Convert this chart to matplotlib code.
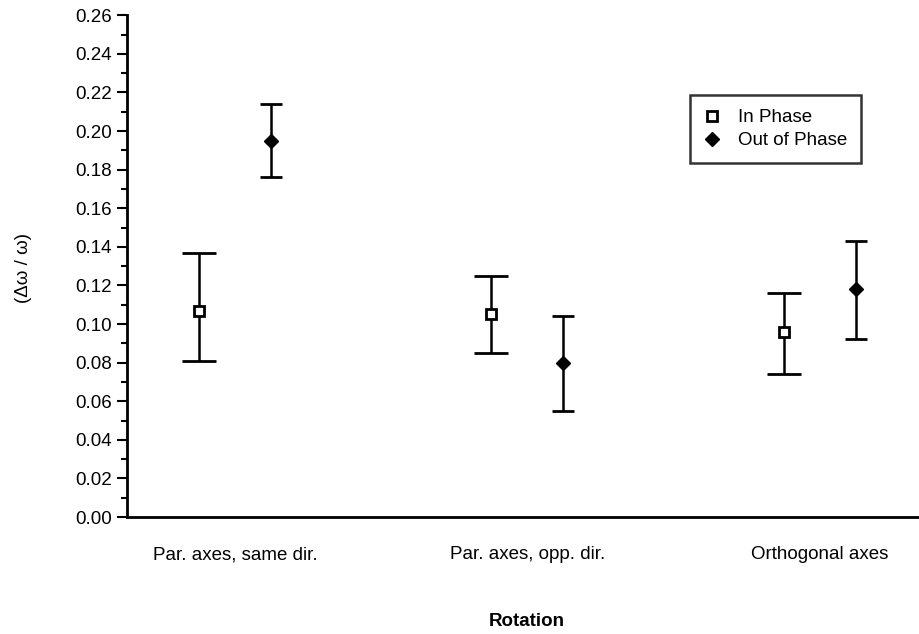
import matplotlib.pyplot as plt
from matplotlib.ticker import MultipleLocator

plt.rcParams['font.family'] = ['Liberation Sans', 'DejaVu Sans']

categories = ['Par. axes, same dir.', 'Par. axes, opp. dir.', 'Orthogonal axes']
in_phase = [0.107, 0.105, 0.096]
in_phase_hi = [0.137, 0.125, 0.116]
in_phase_lo = [0.081, 0.085, 0.074]
out_phase = [0.195, 0.080, 0.118]
out_phase_hi = [0.214, 0.104, 0.143]
out_phase_lo = [0.176, 0.055, 0.092]

fig = plt.figure(figsize=(9.2, 6.34), dpi=100)
ax = fig.add_axes([0.138, 0.1845, 0.862, 0.7915])

x = list(range(len(categories)))
off = 0.123
x_in = [i - off for i in x]
x_out = [i + off for i in x]

err_in = [[v - lo for v, lo in zip(in_phase, in_phase_lo)],
          [hi - v for v, hi in zip(in_phase, in_phase_hi)]]
err_out = [[v - lo for v, lo in zip(out_phase, out_phase_lo)],
           [hi - v for v, hi in zip(out_phase, out_phase_hi)]]

ax.errorbar(x_in, in_phase, yerr=err_in, fmt='none', ecolor='black',
            elinewidth=1.8, capsize=12, capthick=2)
ax.errorbar(x_out, out_phase, yerr=err_out, fmt='none', ecolor='black',
            elinewidth=1.8, capsize=8, capthick=2)
ax.plot(x_in, in_phase, 's', ms=7, mfc='white', mec='black', mew=2,
        label='In Phase', zorder=3)
ax.plot(x_out, out_phase, 'D', ms=7.5, color='black', label='Out of Phase',
        zorder=3)

ax.set_xlim(-0.369, 2.342)
ax.set_ylim(0, 0.26)
ax.yaxis.set_major_locator(MultipleLocator(0.02))
ax.yaxis.set_minor_locator(MultipleLocator(0.01))
ax.yaxis.set_major_formatter(plt.FuncFormatter(lambda v, p: f'{v:.2f}'))
ax.tick_params(axis='y', which='major', length=7, width=1.5, labelsize=13.5, pad=4)
ax.tick_params(axis='y', which='minor', length=4, width=1.5)
ax.set_xticks(x)
ax.set_xticklabels(categories)
ax.tick_params(axis='x', length=0, labelsize=13.5, pad=21)

for s in ['top', 'right']:
    ax.spines[s].set_visible(False)
for s in ['left', 'bottom']:
    ax.spines[s].set_linewidth(2)

ax.set_ylabel('(Δω / ω)', fontsize=13.5, va='center')
ax.yaxis.set_label_coords(-0.130, 0.496)
ax.set_xlabel('Rotation', fontsize=13.5, fontweight='bold', va='center')
ax.xaxis.set_label_coords(0.504, -0.208)

leg = ax.legend(loc='upper left', bbox_to_anchor=(0.71, 0.8406), fontsize=13.5,
                frameon=True, fancybox=False, edgecolor='black',
                borderaxespad=0, handlelength=0.8, handletextpad=1.0,
                borderpad=0.75, labelspacing=0.3)
leg.get_frame().set_linewidth(1.8)

fig.savefig('out.png', dpi=100)
